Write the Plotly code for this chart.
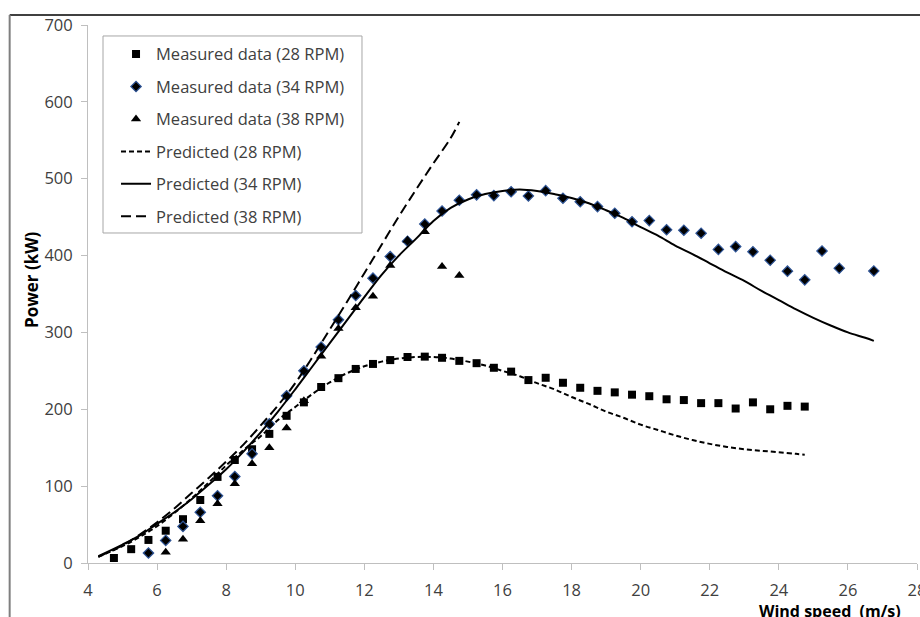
import plotly.graph_objects as go

# ---- data ----
ws_28 = [4.75, 5.25, 5.75, 6.25, 6.75, 7.25, 7.75, 8.25, 8.75, 9.25, 9.75, 10.25, 10.75, 11.25,
         11.75, 12.25, 12.75, 13.25, 13.75, 14.25, 14.75, 15.25, 15.75, 16.25, 16.75, 17.25,
         17.75, 18.25, 18.75, 19.25, 19.75, 20.25, 20.75, 21.25, 21.75, 22.25, 22.75, 23.25,
         23.75, 24.25, 24.75]
p_28 = [6.5, 18, 30, 42, 57, 82, 112, 134, 148, 168, 191.5, 209, 229, 240.5, 252.5, 259, 264,
        268, 268.5, 267, 263, 260, 254, 249, 238, 241, 234.5, 228, 224, 222, 219, 217, 213, 212,
        208, 208, 201, 209, 200, 204.5, 203.5]

ws_34 = [5.75, 6.25, 6.75, 7.25, 7.75, 8.25, 8.75, 9.25, 9.75, 10.25, 10.75, 11.25, 11.75, 12.25,
         12.75, 13.25, 13.75, 14.25, 14.75, 15.25, 15.75, 16.25, 16.75, 17.25, 17.75, 18.25,
         18.75, 19.25, 19.75, 20.25, 20.75, 21.25, 21.75, 22.25, 22.75, 23.25, 23.75, 24.25,
         24.75, 25.25, 25.75, 26.75]
p_34 = [13, 29.4, 47.6, 66, 87.5, 112.6, 142, 181, 217.5, 250, 281, 316.4, 348, 370.6, 398.7,
        418.7, 441, 458, 472, 479, 478, 483, 477.6, 484.5, 474.6, 470, 463.7, 455, 444, 445.5,
        433.5, 433, 429, 408, 411.7, 405, 394, 379.7, 368.4, 406, 383.6, 380]

ws_38 = [6.25, 6.75, 7.25, 7.75, 8.25, 8.75, 9.25, 9.75, 10.25, 10.75, 11.25, 11.75, 12.25,
         12.75, 13.25, 13.75, 14.25, 14.75]
p_38 = [14, 31, 55, 77, 103, 129, 150, 175.5, 211, 269, 305, 332, 347, 387, 420, 431, 385.7, 374]

pred_28_x = [4.3, 5, 5.5, 6, 6.5, 7, 7.5, 8, 8.5, 9, 9.5, 10, 10.5, 11, 11.5, 12, 12.5, 13, 13.5,
             14, 14.5, 15, 15.5, 16, 16.5, 17, 17.5, 18, 18.5, 19, 19.5, 20, 20.5, 21, 21.5, 22,
             22.5, 23, 23.5, 24, 24.5, 24.75]
pred_28_y = [8, 22, 34, 48, 65, 84, 105, 127, 147, 165, 186, 203, 220, 235, 247, 256, 262, 266,
             268, 268, 266, 262, 257, 250, 243, 234, 226, 216, 207, 197, 189, 180, 173, 166, 160,
             155, 151, 148, 146, 144, 142, 141]

pred_34_x = [4.3, 5, 5.5, 6, 6.5, 7, 7.5, 8, 8.5, 9, 9.5, 10, 10.5, 11, 11.5, 12, 12.5, 13, 13.5,
             14, 14.5, 15, 15.5, 16, 16.5, 17, 17.5, 18, 18.5, 19, 19.5, 20, 20.5, 21, 21.5, 22,
             22.5, 23, 23.5, 24, 24.5, 25, 25.5, 26, 26.5, 26.75]
pred_34_y = [9, 24, 36, 51, 66, 83, 102, 122, 145, 170, 197, 226, 256, 286, 316, 346, 375, 400,
             422, 445, 462, 473, 480, 484, 486, 484, 480, 475, 468, 459, 449, 437, 426, 413, 402,
             390, 378, 367, 354, 342, 330, 319, 309, 300, 293, 289]

pred_38_x = [4.3, 5, 5.5, 6, 6.5, 7, 7.5, 8, 8.5, 9, 9.5, 10, 10.5, 11, 11.5, 12, 12.5, 13, 13.5,
             14, 14.5, 14.75]
pred_38_y = [8, 23, 37, 53, 71, 91, 111, 132, 154, 179, 205, 234, 268, 304, 340, 377, 414, 451,
             486, 520, 553, 574]

x_ticks = [4, 6, 8, 10, 12, 14, 16, 18, 20, 22, 24, 26, 28]
y_ticks = [0, 100, 200, 300, 400, 500, 600, 700]

FONT = "Open Sans"
TXT = "#404040"

fig = go.Figure()
fig.add_trace(go.Scatter(x=ws_28, y=p_28, mode="markers", name="Measured data (28 RPM)",
                         legendgroup="a",
                         marker=dict(symbol="square", size=8, color="black")))
fig.add_trace(go.Scatter(x=ws_34, y=p_34, mode="markers", name="Measured data (34 RPM)",
                         legendgroup="b",
                         marker=dict(symbol="diamond", size=8, color="black",
                                     line=dict(color="#2F5597", width=1.2))))
fig.add_trace(go.Scatter(x=ws_38, y=p_38, mode="markers", name="Measured data (38 RPM)",
                         legendgroup="c",
                         marker=dict(symbol="triangle-up", size=9, color="black")))
fig.add_trace(go.Scatter(x=pred_28_x, y=pred_28_y, mode="lines", name="Predicted (28 RPM)",
                         legendgroup="d", line_shape="spline",
                         line=dict(color="black", width=2, dash="5px,3px")))
fig.add_trace(go.Scatter(x=pred_34_x, y=pred_34_y, mode="lines", name="Predicted (34 RPM)",
                         legendgroup="e", line_shape="spline",
                         line=dict(color="black", width=2)))
fig.add_trace(go.Scatter(x=pred_38_x, y=pred_38_y, mode="lines", name="Predicted (38 RPM)",
                         legendgroup="f", line_shape="spline",
                         line=dict(color="black", width=2, dash="10px,5px")))

axis_common = dict(showgrid=False, zeroline=False, showline=True, linecolor="#BFBFBF",
                   linewidth=1, ticks="outside", tickcolor="#BFBFBF", ticklen=6,
                   ticklabeloverflow="allow",
                   tickfont=dict(family=FONT, size=16.5, color=TXT))

fig.update_layout(
    width=920, height=617,
    margin=dict(l=88, r=3, t=25, b=54, autoexpand=False),
    paper_bgcolor="white", plot_bgcolor="white",
    font=dict(family=FONT, color=TXT),
    xaxis=dict(range=[4, 28], tickvals=x_ticks, ticklabelstandoff=6, **axis_common),
    yaxis=dict(range=[0, 700], tickvals=y_ticks, ticklabelstandoff=5, **axis_common),
    legend=dict(x=0.0338, y=0.978, xanchor="left", yanchor="top",
                bgcolor="rgba(0,0,0,0)", borderwidth=0,
                font=dict(family=FONT, size=16.5, color=TXT),
                itemwidth=30, tracegroupgap=8, traceorder="grouped"),
    showlegend=True,
)

fig.add_annotation(text="<b>Power (kW)</b>", xref="paper", yref="paper",
                   x=-0.085, y=0.526, textangle=-90, showarrow=False,
                   font=dict(family=FONT, size=17, color="black"))
fig.add_annotation(text="<b>Wind speed  (m/s)</b>", xref="paper", yref="paper",
                   x=0.895, y=-0.09, xanchor="center", yanchor="middle", showarrow=False,
                   font=dict(family=FONT, size=16, color="black"))

# legend frame
fig.add_shape(type="rect", xref="paper", yref="paper", x0=0.0181, x1=0.3305, y0=0.6134, y1=0.9796,
              line=dict(color="#A6A6A6", width=1), fillcolor="white", layer="below")
# outer frame lines of the original picture
fig.add_shape(type="line", xref="paper", yref="paper", x0=-0.0945, x1=1.01, y0=1.0186, y1=1.0186,
              line=dict(color="black", width=1.5))
fig.add_shape(type="line", xref="paper", yref="paper", x0=-0.0945, x1=-0.0945, y0=1.0186, y1=-0.11,
              line=dict(color="#7F7F7F", width=2))

fig.write_html("out.html")
